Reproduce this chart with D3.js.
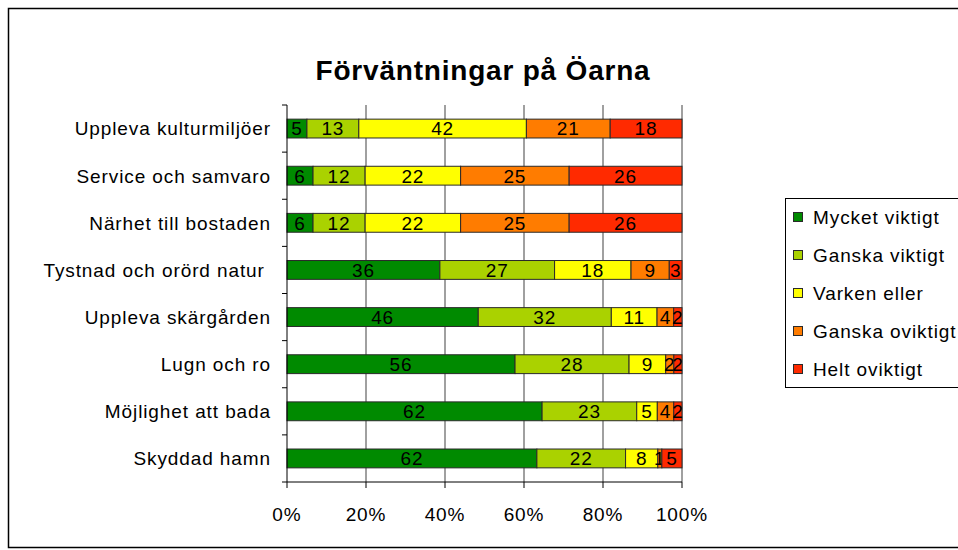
<!DOCTYPE html>
<html>
<head>
<meta charset="utf-8">
<script src="https://cdn.jsdelivr.net/npm/d3@7"></script>
<style>
  body { margin: 0; background: #fff; }
  text { font-family: "Liberation Sans", Arial, sans-serif; fill: #000; }
</style>
</head>
<body>
<div id="chart"></div>
<script>
const width = 958;
const height = 550;

// Data (raw counts, drawn as 100% stacked)
const categories = [
    "Uppleva kulturmiljöer",
    "Service och samvaro",
    "Närhet till bostaden",
    "Tystnad och orörd natur ",
    "Uppleva skärgården",
    "Lugn och ro",
    "Möjlighet att bada",
    "Skyddad hamn"
];
const seriesNames = ["Mycket viktigt", "Ganska viktigt", "Varken eller", "Ganska oviktigt", "Helt oviktigt"];
const mycketViktigt  = [5, 6, 6, 36, 46, 56, 62, 62];
const ganskaViktigt  = [13, 12, 12, 27, 32, 28, 23, 22];
const varkenEller    = [42, 22, 22, 18, 11, 9, 5, 8];
const ganskaOviktigt = [21, 25, 25, 9, 4, 2, 4, 1];
const heltOviktigt   = [18, 26, 26, 3, 2, 2, 2, 5];
const xTicks = [0, 0.2, 0.4, 0.6, 0.8, 1];
const colors = ["#008A00", "#AAD200", "#FFFF00", "#FF7C00", "#FF2A00"];

const seriesValues = [mycketViktigt, ganskaViktigt, varkenEller, ganskaOviktigt, heltOviktigt];

// rows normalised to 100%
const rows = categories.map((c, i) => {
    const vals = seriesValues.map(s => s[i]);
    const total = d3.sum(vals);
    let acc = 0;
    return vals.map((v, k) => {
        const seg = { cat: c, series: k, value: v, x0: acc / total, x1: (acc + v) / total };
        acc += v;
        return seg;
    });
});

const svg = d3.select("#chart").append("svg")
    .attr("width", width)
    .attr("height", height);

// outer chart border
svg.append("rect")
    .attr("x", 8.5).attr("y", 8.5)
    .attr("width", 1000).attr("height", 539)
    .attr("fill", "none").attr("stroke", "#000").attr("stroke-width", 1.5);

const plot = { left: 287, right: 682, top: 105, bottom: 482 };

const x = d3.scaleLinear().domain([0, 1]).range([plot.left, plot.right]);
const y = d3.scaleBand().domain(categories).range([plot.top, plot.bottom])
    .paddingInner(0.6).paddingOuter(0.3);

const labelFont = "19px";
const labelSpacing = "0.9px";

// title
svg.append("text")
    .attr("x", 483).attr("y", 80)
    .attr("text-anchor", "middle")
    .style("font-size", "28px")
    .style("font-weight", "bold")
    .style("letter-spacing", "0.8px")
    .text("Förväntningar på Öarna");

// gridlines
svg.append("g")
    .selectAll("line")
    .data(xTicks.slice(1))
    .join("line")
    .attr("x1", d => x(d)).attr("x2", d => x(d))
    .attr("y1", plot.top).attr("y2", plot.bottom)
    .attr("stroke", "#808080").attr("stroke-width", 1.5);

// bars
const segs = svg.append("g")
    .selectAll("g")
    .data(rows)
    .join("g")
    .selectAll("g")
    .data(d => d)
    .join("g");

segs.append("rect")
    .attr("x", d => x(d.x0))
    .attr("y", d => y(d.cat))
    .attr("width", d => x(d.x1) - x(d.x0))
    .attr("height", y.bandwidth())
    .attr("fill", d => colors[d.series])
    .attr("stroke", "#2a2a2a")
    .attr("stroke-width", 1);

segs.append("text")
    .attr("x", d => (x(d.x0) + x(d.x1)) / 2)
    .attr("y", d => y(d.cat) + y.bandwidth() / 2)
    .attr("dy", "0.36em")
    .attr("text-anchor", "middle")
    .style("font-size", labelFont)
    .style("letter-spacing", labelSpacing)
    .text(d => d.value);

// y axis line + ticks at band boundaries
const axisG = svg.append("g").attr("stroke", "#000").attr("stroke-width", 1);
axisG.append("line")
    .attr("x1", plot.left).attr("x2", plot.left)
    .attr("y1", plot.top).attr("y2", plot.bottom);
axisG.selectAll(".ytick")
    .data(d3.range(categories.length + 1))
    .join("line")
    .attr("class", "ytick")
    .attr("x1", plot.left - 5).attr("x2", plot.left)
    .attr("y1", i => plot.top + i * y.step())
    .attr("y2", i => plot.top + i * y.step());

// x axis
axisG.append("line")
    .attr("x1", plot.left).attr("x2", plot.right)
    .attr("y1", plot.bottom).attr("y2", plot.bottom);
axisG.selectAll(".xtick")
    .data(xTicks)
    .join("line")
    .attr("class", "xtick")
    .attr("x1", d => x(d)).attr("x2", d => x(d))
    .attr("y1", plot.bottom).attr("y2", plot.bottom + 6);

svg.append("g")
    .selectAll("text")
    .data(xTicks)
    .join("text")
    .attr("x", d => x(d))
    .attr("y", 521)
    .attr("text-anchor", "middle")
    .style("font-size", labelFont)
    .style("letter-spacing", labelSpacing)
    .text(d => d3.format(".0%")(d));

// category labels (keep trailing space as in the source)
svg.append("g")
    .selectAll("text")
    .data(categories)
    .join("text")
    .attr("x", 271)
    .attr("y", d => y(d) + y.bandwidth() / 2)
    .attr("dy", "0.36em")
    .attr("text-anchor", "end")
    .style("white-space", "pre")
    .style("font-size", labelFont)
    .style("letter-spacing", labelSpacing)
    .text(d => d);

// legend
const legend = svg.append("g");
legend.append("rect")
    .attr("x", 785.5).attr("y", 198.5)
    .attr("width", 300).attr("height", 189)
    .attr("fill", "#fff").attr("stroke", "#000").attr("stroke-width", 1);

const legendItems = legend.selectAll("g")
    .data(seriesNames)
    .join("g")
    .attr("transform", (d, i) => `translate(793, ${217 + i * 38})`);

legendItems.append("rect")
    .attr("x", 0.5).attr("y", -4.5)
    .attr("width", 9).attr("height", 9)
    .attr("fill", (d, i) => colors[i])
    .attr("stroke", "#2a2a2a");

legendItems.append("text")
    .attr("x", 20)
    .attr("dy", "0.36em")
    .style("font-size", labelFont)
    .style("letter-spacing", labelSpacing)
    .text(d => d);
</script>
</body>
</html>
